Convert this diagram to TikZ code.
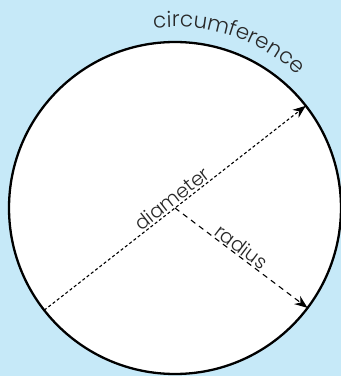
\documentclass[tikz,border=0pt]{standalone}
\usepackage{fontspec}
\newfontfamily\labelfont{Poppins Light}
\usetikzlibrary{arrows.meta,decorations.text}
\definecolor{skyblue}{RGB}{198,233,248}
\definecolor{inkgray}{RGB}{40,40,40}
\newcommand{\circfont}{\labelfont\fontsize{21.5}{25}\selectfont}
\newcommand{\tagfont}{\labelfont\fontsize{19.5}{23}\selectfont}

\begin{document}
\begin{tikzpicture}[
    x=1pt, y=1pt,
    font=\tagfont,
    >={Stealth[length=13pt,width=10pt]},
    disc/.style={
      circle,
      draw=black,
      fill=white,
      line width=2.3pt,
      minimum size=332pt,
      inner sep=0pt,
      outer sep=0pt
    },
    fine/.style={->, dash pattern=on 3pt off 2.4pt, line width=1.1pt},
    coarse/.style={->, dash pattern=on 5.5pt off 4.5pt, line width=1.1pt},
    tag/.style={text=inkgray, sloped, above, inner sep=1.5pt}
  ]
    \fill[skyblue] (0,0) rectangle (341,376);
    \useasboundingbox (0,0) rectangle (341,376);

    \node[disc] (round) at (175,168) {};

    \draw[fine] (round.218) -- node[tag, pos=0.51] {diameter} (round.38);
    \draw[coarse] (round.center) -- node[tag, pos=0.46] {radius} (round.-37);

    \path[decorate, decoration={text along path, text align=center,
        text color=inkgray, text={|\circfont|circumference}}]
      ([shift={(100:181)}]round.center) arc[start angle=100, end angle=44, radius=181];
  \end{tikzpicture}
\end{document}
